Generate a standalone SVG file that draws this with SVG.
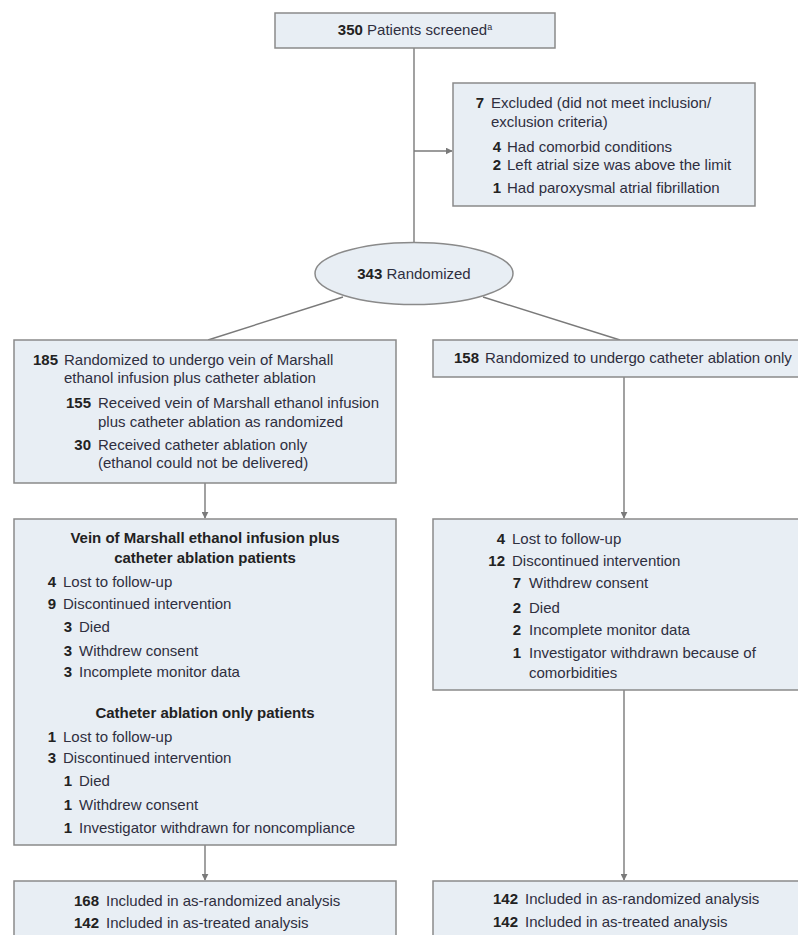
<svg xmlns="http://www.w3.org/2000/svg" width="798" height="935" viewBox="0 0 798 935">
<style>
.box{fill:#e8eef4;stroke:#8a8a8a;stroke-width:1.5}
.ln{fill:none;stroke:#7a7a7a;stroke-width:1.4}
text{font-family:"Liberation Sans",Arial,sans-serif;font-size:15px;fill:#2f2f3f}
.n{font-weight:bold;fill:#222;text-anchor:end}
.h{font-weight:bold;fill:#222;text-anchor:middle}
.c{text-anchor:middle}
</style>
<defs>
<marker id="arr" viewBox="0 0 10 10" refX="9" refY="5" markerWidth="7" markerHeight="7" markerUnits="userSpaceOnUse" orient="auto">
<path d="M0,0 L10,5 L0,10 z" fill="#7a7a7a"/>
</marker>
</defs>
<rect width="798" height="935" fill="#ffffff"/>
<g id="connectors">
<line class="ln" x1="414" y1="48" x2="414" y2="243"/>
<line class="ln" x1="414" y1="151" x2="452" y2="151" marker-end="url(#arr)"/>
<line class="ln" x1="343" y1="297" x2="208" y2="340"/>
<line class="ln" x1="483" y1="297" x2="620" y2="340"/>
<line class="ln" x1="205" y1="483" x2="205" y2="518" marker-end="url(#arr)"/>
<line class="ln" x1="624" y1="377" x2="624" y2="518" marker-end="url(#arr)"/>
<line class="ln" x1="205" y1="845" x2="205" y2="880" marker-end="url(#arr)"/>
<line class="ln" x1="624" y1="690" x2="624" y2="880" marker-end="url(#arr)"/>
</g>
<g id="screened">
<rect class="box" x="275" y="13" width="280" height="35"/>
<text x="415" y="35" class="c"><tspan font-weight="bold" fill="#222">350</tspan> Patients screened<tspan font-size="9" dy="-5">a</tspan></text>
</g>
<g id="excluded">
<rect class="box" x="453" y="83" width="302" height="123"/>
<text x="484" y="108" class="n">7</text>
<text x="491" y="108">Excluded (did not meet inclusion/</text>
<text x="491" y="127">exclusion criteria)</text>
<text x="501" y="152" class="n">4</text>
<text x="507" y="152">Had comorbid conditions</text>
<text x="501" y="170" class="n">2</text>
<text x="507" y="170">Left atrial size was above the limit</text>
<text x="501" y="193" class="n">1</text>
<text x="507" y="193">Had paroxysmal atrial fibrillation</text>
</g>
<g id="randomized">
<ellipse class="box" cx="414" cy="273.5" rx="99" ry="31"/>
<text x="414" y="279" class="c"><tspan font-weight="bold" fill="#222">343</tspan> Randomized</text>
</g>
<g id="vom-arm">
<rect class="box" x="14" y="340" width="382" height="143"/>
<text x="58" y="365" class="n">185</text>
<text x="64" y="365">Randomized to undergo vein of Marshall</text>
<text x="64" y="383">ethanol infusion plus catheter ablation</text>
<text x="91" y="408" class="n">155</text>
<text x="98" y="408">Received vein of Marshall ethanol infusion</text>
<text x="98" y="427">plus catheter ablation as randomized</text>
<text x="91" y="450" class="n">30</text>
<text x="98" y="450">Received catheter ablation only</text>
<text x="98" y="468">(ethanol could not be delivered)</text>
</g>
<g id="ca-arm">
<rect class="box" x="433" y="340" width="372" height="37"/>
<text x="479" y="363" class="n">158</text>
<text x="485" y="363">Randomized to undergo catheter ablation only</text>
</g>
<g id="vom-followup">
<rect class="box" x="14" y="519" width="382" height="326"/>
<text x="205" y="543" class="h">Vein of Marshall ethanol infusion plus</text>
<text x="205" y="563" class="h">catheter ablation patients</text>
<text x="56" y="587" class="n">4</text>
<text x="63" y="587">Lost to follow-up</text>
<text x="56" y="609" class="n">9</text>
<text x="63" y="609">Discontinued intervention</text>
<text x="72" y="632" class="n">3</text>
<text x="79" y="632">Died</text>
<text x="72" y="656" class="n">3</text>
<text x="79" y="656">Withdrew consent</text>
<text x="72" y="677" class="n">3</text>
<text x="79" y="677">Incomplete monitor data</text>
<text x="205" y="718" class="h">Catheter ablation only patients</text>
<text x="56" y="742" class="n">1</text>
<text x="63" y="742">Lost to follow-up</text>
<text x="56" y="763" class="n">3</text>
<text x="63" y="763">Discontinued intervention</text>
<text x="72" y="786" class="n">1</text>
<text x="79" y="786">Died</text>
<text x="72" y="810" class="n">1</text>
<text x="79" y="810">Withdrew consent</text>
<text x="72" y="833" class="n">1</text>
<text x="79" y="833">Investigator withdrawn for noncompliance</text>
</g>
<g id="ca-followup">
<rect class="box" x="433" y="519" width="372" height="171"/>
<text x="505" y="544" class="n">4</text>
<text x="512" y="544">Lost to follow-up</text>
<text x="505" y="566" class="n">12</text>
<text x="512" y="566">Discontinued intervention</text>
<text x="521" y="588" class="n">7</text>
<text x="529" y="588">Withdrew consent</text>
<text x="521" y="613" class="n">2</text>
<text x="529" y="613">Died</text>
<text x="521" y="635" class="n">2</text>
<text x="529" y="635">Incomplete monitor data</text>
<text x="521" y="658" class="n">1</text>
<text x="529" y="658">Investigator withdrawn because of</text>
<text x="529" y="678">comorbidities</text>
</g>
<g id="vom-analysis">
<rect class="box" x="14" y="881" width="382" height="70"/>
<text x="99" y="906" class="n">168</text>
<text x="106" y="906">Included in as-randomized analysis</text>
<text x="99" y="928" class="n">142</text>
<text x="106" y="928">Included in as-treated analysis</text>
</g>
<g id="ca-analysis">
<rect class="box" x="433" y="881" width="372" height="70"/>
<text x="518" y="904" class="n">142</text>
<text x="525" y="904">Included in as-randomized analysis</text>
<text x="518" y="927" class="n">142</text>
<text x="525" y="927">Included in as-treated analysis</text>
</g>
</svg>
